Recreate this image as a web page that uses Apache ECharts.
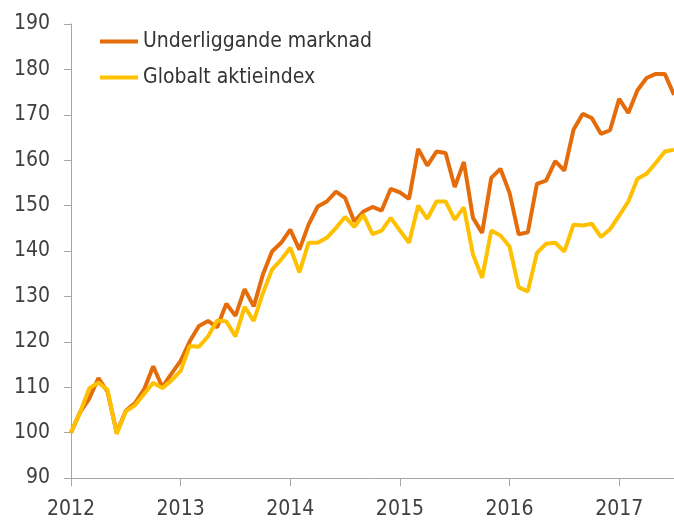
<!DOCTYPE html>
<html>
<head>
<meta charset="utf-8">
<script src="https://cdn.jsdelivr.net/npm/echarts@6/dist/echarts.min.js"></script>
<style>
html,body{margin:0;padding:0;background:#fff;}
#chart{width:674px;height:522px;}
</style>
</head>
<body>
<div id="chart"></div>
<script>
var years = ['2012', '2013', '2014', '2015', '2016', '2017'];
var yTicks = [90, 100, 110, 120, 130, 140, 150, 160, 170, 180, 190];
var seriesNames = ['Underliggande marknad', 'Globalt aktieindex'];

var underliggande = [
  100, 104.5, 107.5, 112, 109, 100, 104.8, 106.5, 109.5, 114.6, 110, 113,
  115.8, 120.1, 123.5, 124.6, 123.2, 128.4, 125.7, 131.6, 127.8, 134.8, 139.9, 141.8,
  144.7, 140.3, 145.8, 149.8, 150.9, 153.1, 151.7, 146.5, 148.7, 149.7, 148.9, 153.7,
  152.9, 151.5, 162.5, 158.8, 161.9, 161.6, 154.1, 159.6, 147.3, 144.0, 156.1, 158.1,
  152.8, 143.7, 144.1, 154.8, 155.5, 159.8, 157.7, 166.7, 170.2, 169.3, 165.8, 166.6,
  173.5, 170.4, 175.4, 178.1, 179.0, 179.0, 174.4
];
var globalt = [
  100, 104.5, 109.8, 111, 109.4, 99.7, 104.7, 106, 108.5, 111, 109.8, 111.5,
  113.6, 119.1, 118.9, 121.2, 124.7, 124.5, 121.2, 127.7, 124.6, 130.7, 135.9, 138.1,
  140.7, 135.3, 141.8, 141.8, 142.9, 145.1, 147.5, 145.3, 148, 143.7, 144.5, 147.3,
  144.5, 141.8, 150, 147.1, 150.9, 150.9, 146.9, 149.6, 139.2, 134.1, 144.5, 143.4,
  141, 132, 131.1, 139.6, 141.6, 141.8, 139.9, 145.8, 145.6, 146.0, 143.1, 144.8,
  147.8, 150.9, 155.9, 157, 159.4, 161.9, 162.3
];

var months = [];
for (var i = 0; i < underliggande.length; i++) {
  months.push(years[Math.floor(i / 12)] + '-' + (i % 12 + 1));
}

var FONT = "'DejaVu Sans Condensed', 'Liberation Sans Narrow', sans-serif";
var chart = echarts.init(document.getElementById('chart'), null, {renderer: 'canvas'});
chart.setOption({
  animation: false,
  backgroundColor: '#ffffff',
  grid: {left: 71, right: 0, top: 24, bottom: 44, containLabel: false},
  legend: {
    orient: 'vertical',
    left: 100,
    top: 31,
    padding: 0,
    itemWidth: 38,
    itemHeight: 4,
    itemGap: 15,
    icon: 'rect',
    data: seriesNames,
    textStyle: {fontFamily: FONT, fontSize: 21, color: '#333333', lineHeight: 21}
  },
  xAxis: {
    type: 'category',
    data: months,
    boundaryGap: false,
    axisLine: {lineStyle: {color: '#a6a6a6', width: 1}},
    axisTick: {show: true, length: 8, interval: function (idx) { return idx % 12 === 0; }, lineStyle: {color: '#a6a6a6'}},
    axisLabel: {
      interval: function (idx) { return idx % 12 === 0; },
      formatter: function (v, idx) { return years[Math.floor(idx / 12)]; },
      fontFamily: FONT, fontSize: 21, color: '#404040', margin: 21
    },
    splitLine: {show: false}
  },
  yAxis: {
    type: 'value',
    min: yTicks[0],
    max: yTicks[yTicks.length - 1],
    interval: 10,
    axisLine: {show: true, lineStyle: {color: '#a6a6a6', width: 1}},
    axisTick: {show: true, length: 7, lineStyle: {color: '#a6a6a6'}},
    axisLabel: {fontFamily: FONT, fontSize: 21, color: '#404040', margin: 21},
    splitLine: {show: false}
  },
  series: [
    {
      name: seriesNames[0], type: 'line', data: underliggande,
      showSymbol: false, symbol: 'none',
      lineStyle: {color: '#E46C0A', width: 4},
      itemStyle: {color: '#E46C0A'}
    },
    {
      name: seriesNames[1], type: 'line', data: globalt,
      showSymbol: false, symbol: 'none',
      lineStyle: {color: '#FFC000', width: 4},
      itemStyle: {color: '#FFC000'}
    }
  ]
});
</script>
</body>
</html>
